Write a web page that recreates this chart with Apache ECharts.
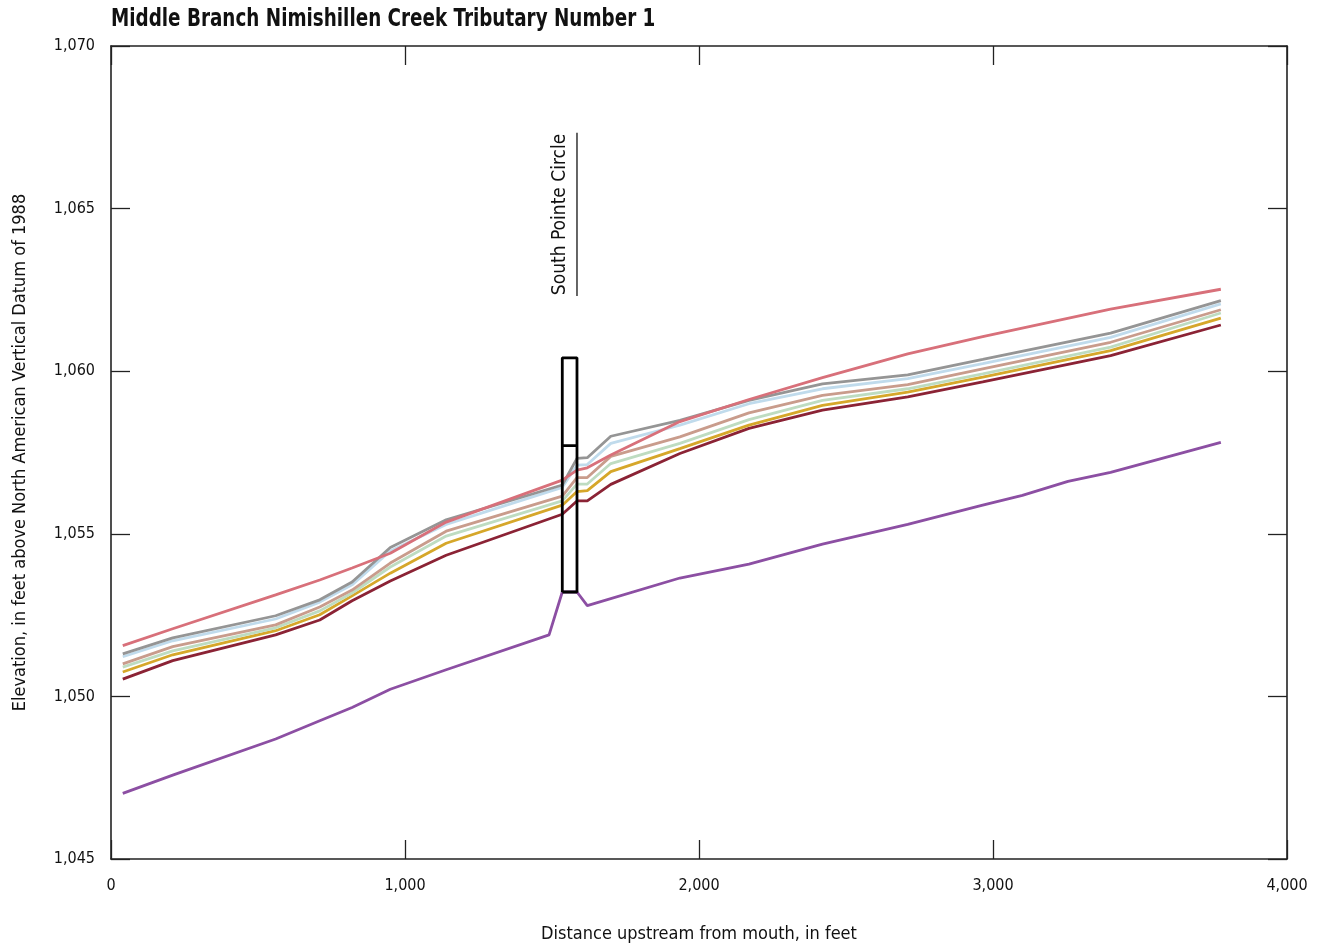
<!DOCTYPE html>
<html>
<head>
<meta charset="utf-8">
<script src="https://cdn.jsdelivr.net/npm/echarts@6/dist/echarts.min.js"></script>
<style>
  html, body { margin: 0; padding: 0; background: #fff; }
  #chart { width: 1317px; height: 948px; }
</style>
</head>
<body>
<div id="chart"></div>
<script>
// Water-surface profiles and streambed along the tributary (distance in feet, elevation in feet NAVD 88)
const stations = [40, 210, 560, 710, 820, 950, 1140, 1535, 1585, 1620, 1700, 1935, 2170, 2420, 2710, 2965, 3400, 3775];

const profileRed     = [1051.56, 1052.08, 1053.12, 1053.58, 1053.95, 1054.40, 1055.36, 1056.65, 1056.96, 1057.03, 1057.42, 1058.45, 1059.13, 1059.80, 1060.53, 1061.06, 1061.91, 1062.52];
const profileGray    = [1051.31, 1051.80, 1052.48, 1052.97, 1053.52, 1054.58, 1055.43, 1056.50, 1057.32, 1057.34, 1058.00, 1058.49, 1059.10, 1059.61, 1059.89, 1060.36, 1061.17, 1062.17];
const profileBlue    = [1051.22, 1051.71, 1052.38, 1052.90, 1053.43, 1054.47, 1055.29, 1056.43, 1057.11, 1057.13, 1057.78, 1058.34, 1059.00, 1059.46, 1059.77, 1060.23, 1061.04, 1062.07];
const profileTan     = [1051.00, 1051.53, 1052.20, 1052.75, 1053.27, 1054.10, 1055.08, 1056.16, 1056.73, 1056.73, 1057.38, 1057.98, 1058.72, 1059.26, 1059.59, 1060.07, 1060.89, 1061.89];
const profileGreen   = [1050.90, 1051.40, 1052.11, 1052.63, 1053.18, 1053.98, 1054.93, 1056.01, 1056.53, 1056.53, 1057.16, 1057.78, 1058.51, 1059.10, 1059.46, 1059.92, 1060.74, 1061.79];
const profileGold    = [1050.75, 1051.28, 1052.02, 1052.51, 1053.09, 1053.79, 1054.71, 1055.88, 1056.30, 1056.33, 1056.91, 1057.62, 1058.34, 1058.95, 1059.36, 1059.82, 1060.63, 1061.63];
const profileDarkRed = [1050.53, 1051.10, 1051.89, 1052.35, 1052.94, 1053.55, 1054.34, 1055.60, 1056.01, 1056.01, 1056.52, 1057.47, 1058.24, 1058.80, 1059.21, 1059.67, 1060.48, 1061.42];

const bedStations = [40, 210, 560, 710, 820, 950, 1140, 1490, 1535, 1585, 1620, 1935, 2170, 2420, 2710, 2965, 3100, 3255, 3400, 3775];
const bedElev     = [1047.02, 1047.58, 1048.69, 1049.25, 1049.66, 1050.22, 1050.82, 1051.89, 1053.21, 1053.21, 1052.79, 1053.64, 1054.07, 1054.68, 1055.29, 1055.88, 1056.18, 1056.61, 1056.89, 1057.81];

// Bridge: upstream/downstream faces, deck top, low chord, and bottom
const bridgeX = [1535, 1585];
const bridgeTop = 1060.41;
const bridgeLowChord = 1057.71;
const bridgeBottom = 1053.21;
const bridgeName = 'South Pointe Circle';
const bridgeLeader = [1062.31, 1067.33];

const chartTitle = 'Middle Branch Nimishillen Creek Tributary Number 1';
const xTicks = [0, 1000, 2000, 3000, 4000];
const yTicks = [1045, 1050, 1055, 1060, 1065, 1070];

const FONT = '"Liberation Sans Narrow", "Arial Narrow", "DejaVu Sans Condensed", sans-serif';
const AXIS_COLOR = '#222';

function pairs(xs, ys) { return xs.map((x, i) => [x, ys[i]]); }
function comma(v) { return Number(v).toLocaleString('en-US'); }

const profiles = [
  { name: 'Dark red', data: profileDarkRed, color: '#8b2335' },
  { name: 'Gold',     data: profileGold,    color: '#d6a72a' },
  { name: 'Green',    data: profileGreen,   color: '#bedcc1' },
  { name: 'Tan',      data: profileTan,     color: '#c99c8c' },
  { name: 'Blue',     data: profileBlue,    color: '#c0dbec' },
  { name: 'Gray',     data: profileGray,    color: '#959595' },
  { name: 'Red',      data: profileRed,     color: '#d8707a' }
];

const series = [];
series.push({
  type: 'line', name: 'Streambed', data: pairs(bedStations, bedElev),
  symbol: 'none', lineStyle: { color: '#8c4fa3', width: 2.8 }, z: 3, animation: false
});
profiles.forEach((p, i) => series.push({
  type: 'line', name: p.name, data: pairs(stations, p.data),
  symbol: 'none', lineStyle: { color: p.color, width: 2.8 }, z: 3 + i, animation: false
}));

// Bridge outline and low chord
series.push({
  type: 'line', name: 'Bridge', symbol: 'none', z: 20, animation: false,
  lineStyle: { color: '#000', width: 2.8 },
  data: [[bridgeX[0], bridgeBottom], [bridgeX[0], bridgeTop], [bridgeX[1], bridgeTop],
         [bridgeX[1], bridgeBottom], [bridgeX[0], bridgeBottom]]
});
series.push({
  type: 'line', name: 'Low chord', symbol: 'none', z: 20, animation: false,
  lineStyle: { color: '#000', width: 2.8 },
  data: [[bridgeX[0], bridgeLowChord], [bridgeX[1], bridgeLowChord]]
});
// Leader line and road name
series.push({
  type: 'line', name: 'Leader', symbol: 'none', z: 20, animation: false,
  lineStyle: { color: '#000', width: 1.2 },
  data: [[bridgeX[1], bridgeLeader[0]], [bridgeX[1], bridgeLeader[1]]]
});
series.push({
  type: 'custom', name: 'Bridge name', z: 21, animation: false,
  data: [[bridgeX[0], (bridgeLeader[0] + bridgeLeader[1]) / 2]],
  renderItem: function (params, api) {
    const p = api.coord([api.value(0), api.value(1)]);
    return {
      type: 'text', x: p[0] - 2, y: p[1], rotation: Math.PI / 2,
      style: { text: bridgeName, font: '19px ' + FONT, fill: '#111', align: 'center', verticalAlign: 'middle' }
    };
  }
});

const tickCommon = { show: true, inside: true, length: 19, lineStyle: { color: AXIS_COLOR, width: 1.3 } };
const lineCommon = { show: true, onZero: false, lineStyle: { color: AXIS_COLOR, width: 1.6 } };

const option = {
  animation: false,
  backgroundColor: '#fff',
  graphic: [{
    type: 'text', x: 111, y: 20, scaleX: 0.85,
    style: { text: chartTitle, font: 'bold 24px ' + FONT, fill: '#111', align: 'left', verticalAlign: 'middle' }
  }],
  grid: { left: 111, right: 30, top: 46, bottom: 86, containLabel: false },
  xAxis: [{
    type: 'value', min: xTicks[0], max: xTicks[xTicks.length - 1], interval: 1000,
    axisLine: lineCommon, axisTick: tickCommon, splitLine: { show: false },
    axisLabel: { formatter: comma, fontFamily: FONT, fontSize: 16, color: '#111', margin: 19 },
    name: 'Distance upstream from mouth, in feet', nameLocation: 'middle', nameGap: 66,
    nameTextStyle: { fontFamily: FONT, fontSize: 18, color: '#111' }
  }, {
    type: 'value', position: 'top', min: xTicks[0], max: xTicks[xTicks.length - 1], interval: 1000,
    axisLine: lineCommon, axisTick: tickCommon, splitLine: { show: false }, axisLabel: { show: false }
  }],
  yAxis: [{
    type: 'value', min: yTicks[0], max: yTicks[yTicks.length - 1], interval: 5,
    axisLine: lineCommon, axisTick: tickCommon, splitLine: { show: false },
    axisLabel: { formatter: comma, fontFamily: FONT, fontSize: 16, color: '#111', margin: 16 },
    name: 'Elevation, in feet above North American Vertical Datum of 1988', nameLocation: 'middle', nameGap: 82,
    nameTextStyle: { fontFamily: FONT, fontSize: 18, color: '#111' }
  }, {
    type: 'value', position: 'right', min: yTicks[0], max: yTicks[yTicks.length - 1], interval: 5,
    axisLine: lineCommon, axisTick: tickCommon, splitLine: { show: false }, axisLabel: { show: false }
  }],
  series: series
};

const chart = echarts.init(document.getElementById('chart'), null, { renderer: 'canvas' });
chart.setOption(option);
</script>
</body>
</html>
